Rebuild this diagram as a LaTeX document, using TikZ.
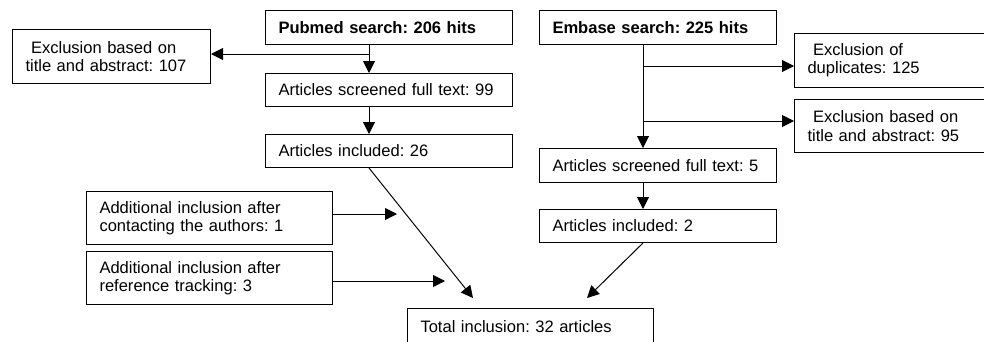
\documentclass[tikz,border=0pt]{standalone}
\usepackage{fontspec}
\setmainfont{Liberation Sans}
\frenchspacing
\usetikzlibrary{arrows.meta}
\begin{document}
\begin{tikzpicture}[x=1bp, y=-1bp,
    box/.style={draw, line width=1bp, anchor=north west, inner xsep=13bp, inner ysep=0pt,
      align=left, font=\fontsize{16.6}{18.5}\selectfont},
    arr/.style={line width=1bp, -{Triangle[length=12bp,width=12bp]}}]
  \useasboundingbox (0,0) rectangle (984,341);

  % Pubmed column
  \node[box, text width=221bp, minimum height=34bp] (pubmed) at (265,10) {\textbf{Pubmed search: 206 hits}};
  \node[box, text width=172bp, minimum height=54bp] (excl1) at (12,29) {\ Exclusion based on\\title and abstract: 107};
  \node[box, text width=221bp, minimum height=33bp] (screen1) at (265,73) {Articles screened full text: 99};
  \node[box, text width=221bp, minimum height=33bp] (incl1) at (265,134) {Articles included: 26};

  % Embase column
  \node[box, text width=211bp, minimum height=34bp] (embase) at (539,10) {\textbf{Embase search: 225 hits}};
  \node[box, text width=174bp, minimum height=54bp] (dupl) at (794,33) {\ Exclusion of\\duplicates: 125};
  \node[box, text width=174bp, minimum height=53bp] (excl2) at (794,99) {\ Exclusion based on\\title and abstract: 95};
  \node[box, text width=211bp, minimum height=34bp] (screen2) at (539,148) {Articles screened full text: 5};
  \node[box, text width=211bp, minimum height=33bp] (incl2) at (539,209) {Articles included: 2};

  % Additional inclusions and total
  \node[box, text width=220bp, minimum height=53bp] (add1) at (86,191) {Additional inclusion after\\contacting the authors: 1};
  \node[box, text width=220bp, minimum height=53bp] (add2) at (86,251) {Additional inclusion after\\reference tracking: 3};
  \node[box, text width=220bp, minimum height=36bp] (total) at (407,308) {Total inclusion: 32 articles};

  % Branch points and free arrow ends
  \coordinate (c1) at (369,0);
  \coordinate (c2) at (643,0);
  \coordinate (j1) at (369,54);
  \coordinate (j2) at (643,66);
  \coordinate (j3) at (643,121);
  \coordinate (t1) at (473,298);
  \coordinate (t2) at (587,298);
  \coordinate (a1) at (397,214);
  \coordinate (a2) at (445,281);

  % Pubmed arrows
  \draw[arr] (pubmed.south -| c1) -- (screen1.north -| c1);
  \draw[arr] (j1) -- (j1 -| excl1.east);
  \draw[arr] (screen1.south -| c1) -- (incl1.north -| c1);
  \draw[arr] (incl1.south -| c1) -- (t1);

  % Embase arrows
  \draw[arr] (embase.south -| c2) -- (screen2.north -| c2);
  \draw[arr] (j2) -- (j2 -| dupl.west);
  \draw[arr] (j3) -- (j3 -| excl2.west);
  \draw[arr] (screen2.south -| c2) -- (incl2.north -| c2);
  \draw[arr] (incl2.south -| c2) -- (t2);

  % Additional arrows
  \draw[arr] (a1 -| add1.east) -- (a1);
  \draw[arr] (a2 -| add2.east) -- (a2);
\end{tikzpicture}
\end{document}
